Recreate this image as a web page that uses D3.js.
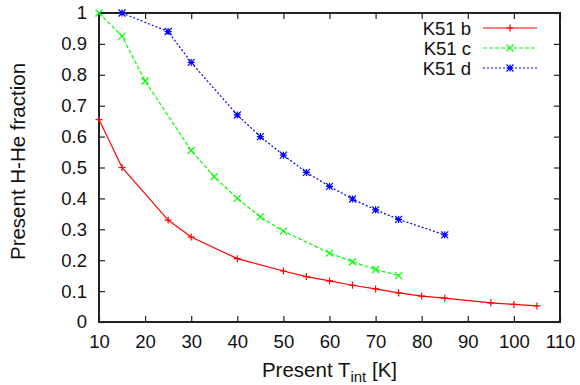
<!DOCTYPE html>
<html>
<head>
<meta charset="utf-8">
<script src="https://cdn.jsdelivr.net/npm/d3@7/dist/d3.min.js"></script>
<style>
  html, body { margin: 0; padding: 0; background: #fff; }
  svg { display: block; font-family: "Liberation Sans", Arial, sans-serif; }
</style>
</head>
<body>
<svg id="chart" width="580" height="385"></svg>
<script>
// Data
const tintB = [10, 15, 25, 30, 40, 50, 55, 60, 65, 70, 75, 80, 85, 95, 100, 105];
const fracB = [0.655, 0.50, 0.33, 0.275, 0.205, 0.165, 0.147, 0.133, 0.119, 0.107, 0.094, 0.084, 0.077, 0.062, 0.057, 0.052];

const tintC = [10, 15, 20, 30, 35, 40, 45, 50, 60, 65, 70, 75];
const fracC = [1.0, 0.925, 0.78, 0.555, 0.47, 0.40, 0.34, 0.294, 0.223, 0.195, 0.170, 0.150];

const tintD = [15, 25, 30, 40, 45, 50, 55, 60, 65, 70, 75, 85];
const fracD = [1.0, 0.94, 0.84, 0.67, 0.60, 0.54, 0.484, 0.439, 0.398, 0.363, 0.332, 0.282];

const xTicks = [10, 20, 30, 40, 50, 60, 70, 80, 90, 100, 110];
const yTicks = [0, 0.1, 0.2, 0.3, 0.4, 0.5, 0.6, 0.7, 0.8, 0.9, 1];

const series = [
  { name: 'K51 b', xs: tintB, ys: fracB, color: '#ff0000', dash: null, marker: 'plus' },
  { name: 'K51 c', xs: tintC, ys: fracC, color: '#00ff00', dash: '4,2', marker: 'cross' },
  { name: 'K51 d', xs: tintD, ys: fracD, color: '#0000ff', dash: '2,2', marker: 'star' }
];

const margin = { left: 99, right: 20, top: 13, bottom: 63 };
const width = 580, height = 385;

const svg = d3.select('#chart');

const x = d3.scaleLinear().domain([10, 110]).range([margin.left, width - margin.right]);
const y = d3.scaleLinear().domain([0, 1]).range([height - margin.bottom, margin.top]);

const tickLen = 6;
const tickFont = 18.5;
const legendFont = 18.5;
const titleFont = 20.5;

// Axes: inward ticks on all four sides, gnuplot style
const gx = svg.append('g')
  .attr('transform', `translate(0,${y(0)})`)
  .call(d3.axisBottom(x).tickValues(xTicks).tickSize(-tickLen).tickPadding(13).tickFormat(d3.format('d')));
const gxTop = svg.append('g')
  .attr('transform', `translate(0,${y(1)})`)
  .call(d3.axisTop(x).tickValues(xTicks).tickSize(-tickLen).tickFormat(''));
const gy = svg.append('g')
  .attr('transform', `translate(${x(10)},0)`)
  .call(d3.axisLeft(y).tickValues(yTicks).tickSize(-tickLen).tickPadding(12).tickFormat(d => d3.format('')(+d.toFixed(1))));
const gyRight = svg.append('g')
  .attr('transform', `translate(${x(110)},0)`)
  .call(d3.axisRight(y).tickValues(yTicks).tickSize(-tickLen).tickFormat(''));

[gx, gxTop, gy, gyRight].forEach(g => {
  g.select('.domain').remove();
  g.selectAll('.tick line').attr('stroke', '#222').attr('stroke-width', 1.2);
  g.selectAll('.tick text').attr('fill', '#111').style('font-size', tickFont + 'px');
});

// Border
svg.append('rect')
  .attr('x', x(10)).attr('y', y(1))
  .attr('width', x(110) - x(10)).attr('height', y(0) - y(1))
  .attr('fill', 'none').attr('stroke', '#222').attr('stroke-width', 2);

// Marker drawing
function drawMarker(g, type, cx, cy, color) {
  const s = 3.5;
  const p = d3.path();
  if (type === 'plus' || type === 'star') {
    p.moveTo(cx - s, cy); p.lineTo(cx + s, cy);
    p.moveTo(cx, cy - s); p.lineTo(cx, cy + s);
  }
  if (type === 'cross' || type === 'star') {
    p.moveTo(cx - s, cy - s); p.lineTo(cx + s, cy + s);
    p.moveTo(cx - s, cy + s); p.lineTo(cx + s, cy - s);
  }
  g.append('path').attr('d', p.toString())
    .attr('stroke', color).attr('stroke-width', 1.2).attr('fill', 'none');
}

const line = d3.line().x(d => x(d[0])).y(d => y(d[1]));

const plot = svg.append('g').attr('class', 'series');
series.forEach(s => {
  const pts = s.xs.map((v, i) => [v, s.ys[i]]);
  plot.append('path')
    .datum(pts)
    .attr('d', line)
    .attr('fill', 'none')
    .attr('stroke', s.color)
    .attr('stroke-width', 1.2)
    .attr('stroke-dasharray', s.dash);
  const mg = plot.append('g');
  pts.forEach(d => drawMarker(mg, s.marker, x(d[0]), y(d[1]), s.color));
});

// Legend
const legend = svg.append('g').attr('class', 'legend');
series.forEach((s, i) => {
  const cy = 28 + i * 20;
  legend.append('text')
    .attr('x', 471).attr('y', cy)
    .attr('dy', '0.36em')
    .attr('text-anchor', 'end')
    .attr('fill', '#111')
    .style('font-size', legendFont + 'px')
    .text(s.name);
  legend.append('line')
    .attr('x1', 483).attr('x2', 537)
    .attr('y1', cy).attr('y2', cy)
    .attr('stroke', s.color).attr('stroke-width', 1.2)
    .attr('stroke-dasharray', s.dash);
  drawMarker(legend, s.marker, 510, cy, s.color);
});

// Axis titles
const xTitle = svg.append('text')
  .attr('x', (x(10) + x(110)) / 2)
  .attr('y', 376.5)
  .attr('text-anchor', 'middle')
  .attr('fill', '#111')
  .style('font-size', titleFont + 'px');
xTitle.append('tspan').text('Present T');
xTitle.append('tspan').attr('dy', 5).style('font-size', '15px').text('int');
xTitle.append('tspan').attr('dy', -5).text(' [K]');

svg.append('text')
  .attr('transform', `translate(25,${(y(0) + y(1)) / 2 - 6}) rotate(-90)`)
  .attr('text-anchor', 'middle')
  .attr('fill', '#111')
  .style('font-size', titleFont + 'px')
  .text('Present H-He fraction');
</script>
</body>
</html>
